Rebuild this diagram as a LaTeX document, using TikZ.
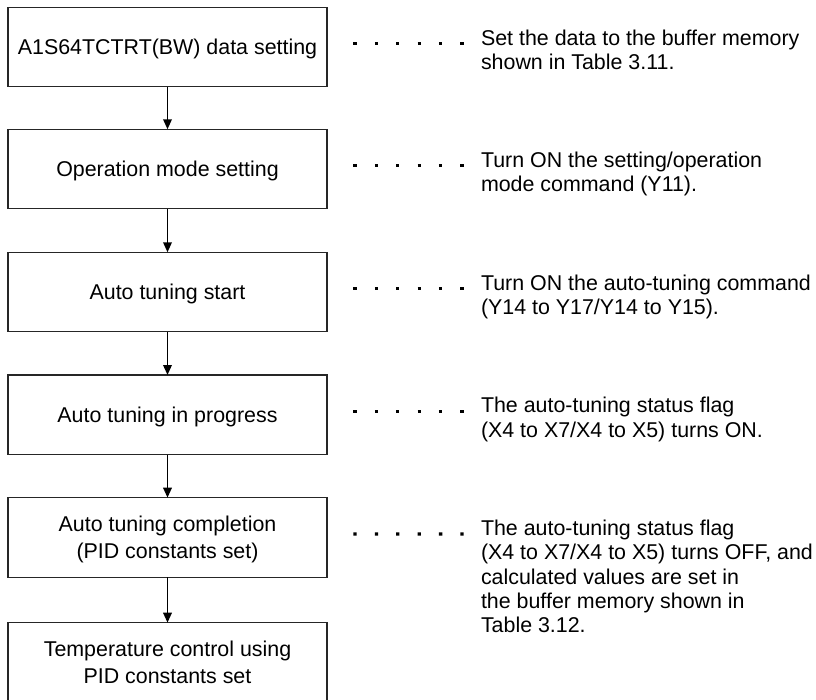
\documentclass[tikz,border=0pt]{standalone}
\usepackage{fontspec}
\setmainfont{Liberation Sans}
\usetikzlibrary{arrows.meta}

\tikzset{
  stepbox/.style={draw=black!85, line width=1.3pt, minimum width=319pt,
    minimum height=79.5pt, inner sep=0pt, outer sep=0pt, align=center,
    font=\fontsize{21.4}{26.5}\selectfont, text height=15.4pt, text depth=0pt},
  twoline/.style={text height=41.9pt},
  flow/.style={-{Triangle[width=8.5pt,length=10pt]}, line width=1.8pt},
  note/.style={anchor=base west, inner sep=0pt, outer sep=0pt, align=left,
    font=\fontsize{21.4}{24.3}\selectfont},
  leader/.style={line width=3.3pt, dash pattern=on 3.3pt off 18.1pt}
}

\begin{document}
\begin{tikzpicture}[x=1pt, y=-1pt]
  \clip (0,0) rectangle (816,700);
  \fill[white] (0,0) rectangle (816,700);

  % flow steps
  \node[stepbox] (b1) at (167.5,47.05) {A1S64TCTRT(BW) data setting};
  \node[stepbox] (b2) at (167.5,169.05) {Operation mode setting};
  \node[stepbox] (b3) at (167.5,292.05) {Auto tuning start};
  \node[stepbox] (b4) at (167.5,414.75) {Auto tuning in progress};
  \node[stepbox, twoline] (b5) at (167.5,537.45) {Auto tuning completion\\(PID constants set)};
  \node[stepbox, twoline] (b6) at (167.5,662.45) {Temperature control using\\PID constants set};

  \draw[flow] (b1.south) -- (b2.north);
  \draw[flow] (b2.south) -- (b3.north);
  \draw[flow] (b3.south) -- (b4.north);
  \draw[flow] (b4.south) -- (b5.north);
  \draw[flow] (b5.south) -- (b6.north);

  % explanations, placed by the baseline of their last line
  \node[note] (n1) at (481,69.35) {Set the data to the buffer memory\\shown in Table 3.11.};
  \node[note] (n2) at (481,191.35) {Turn ON the setting/operation\\mode command (Y11).};
  \node[note] (n3) at (481,314.35) {Turn ON the auto-tuning command\\(Y14 to Y17/Y14 to Y15).};
  \node[note] (n4) at (481,437.05) {The auto-tuning status flag\\(X4 to X7/X4 to X5) turns ON.};
  \node[note] (n5) at (481,632.65) {The auto-tuning status flag\\(X4 to X7/X4 to X5) turns OFF, and\\calculated values are set in\\the buffer memory shown in\\Table 3.12.};

  % dotted leaders, level with the first line of each explanation
  \foreach \i/\k in {1/1,2/1,3/1,4/1,5/4}{
    \draw[leader] ([xshift=26.35pt, yshift=3.5pt]b\i.east)
      -- ([xshift=-17.35pt, yshift=\k*24.3pt+1.5pt]n\i.base west);
  }
\end{tikzpicture}
\end{document}
